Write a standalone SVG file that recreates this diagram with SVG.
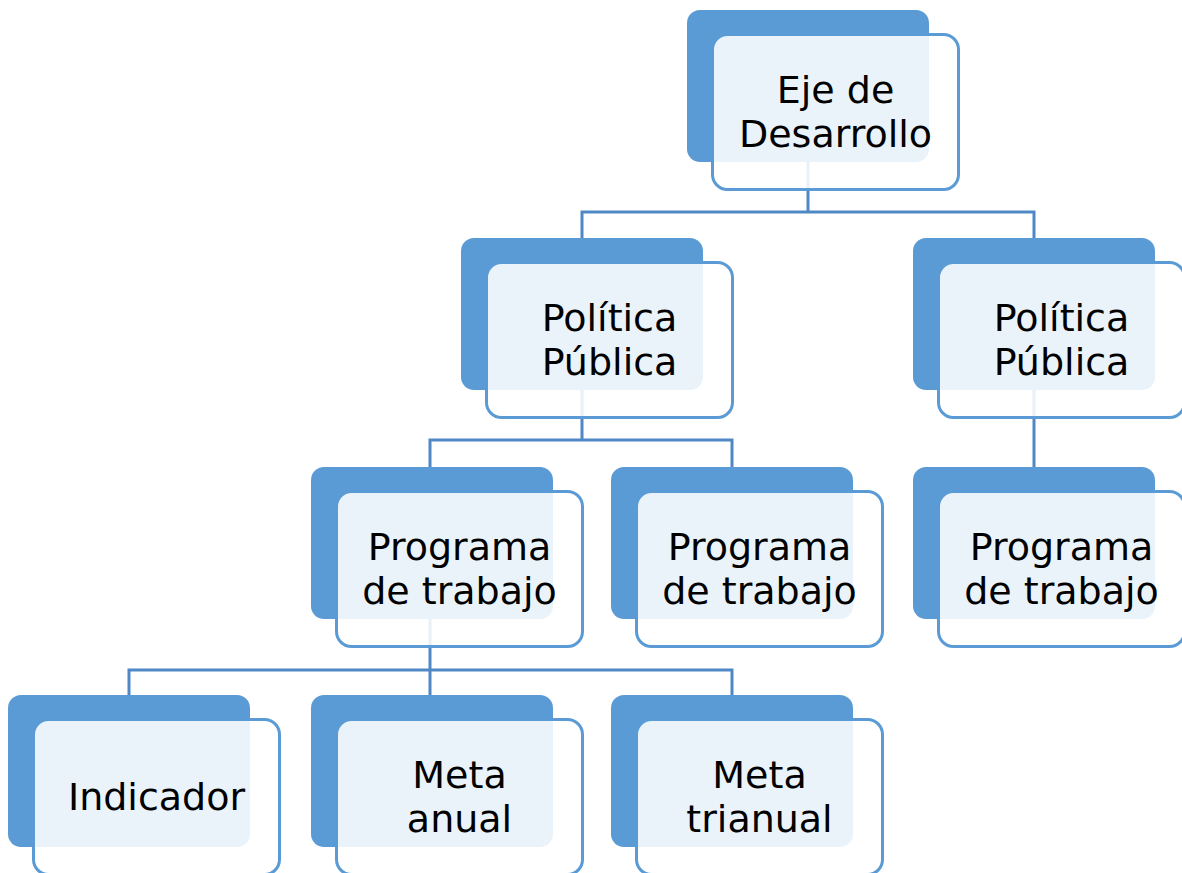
<svg xmlns="http://www.w3.org/2000/svg" width="1182" height="873" viewBox="0 0 1182 873">
<style>
.back{fill:#5b9bd5}
.front{fill:#ffffff;fill-opacity:0.88;stroke:#5b9bd5;stroke-width:3}
.conn{fill:none;stroke:#4f88c4;stroke-width:3}
text{font-family:"DejaVu Sans","Liberation Sans",sans-serif;font-size:38px;fill:#000;text-anchor:middle}
</style>
<rect width="1182" height="873" fill="#fff"/>
<g id="connectors">
<path class="conn" d="M808,162 V212 M582,238 V212 H1034 V238"/>
<path class="conn" d="M582,390 V440 M430,467 V440 H732 V467"/>
<path class="conn" d="M1034,390 V467"/>
<path class="conn" d="M430,619 V670 M129,695 V670 H732 V695 M430,670 V695"/>
</g>
<g id="eje">
<rect class="back" x="687" y="10" width="242" height="152" rx="13"/>
<rect class="front" x="712.5" y="34.5" width="246" height="155" rx="15"/>
<text x="835.5" y="103">Eje de</text>
<text x="835.5" y="147">Desarrollo</text>
</g>
<g id="pp1">
<rect class="back" x="461" y="238" width="242" height="152" rx="13"/>
<rect class="front" x="486.5" y="262.5" width="246" height="155" rx="15"/>
<text x="609.5" y="331">Política</text>
<text x="609.5" y="375">Pública</text>
</g>
<g id="pp2">
<rect class="back" x="913" y="238" width="242" height="152" rx="13"/>
<rect class="front" x="938.5" y="262.5" width="246" height="155" rx="15"/>
<text x="1061.5" y="331">Política</text>
<text x="1061.5" y="375">Pública</text>
</g>
<g id="pt1">
<rect class="back" x="311" y="467" width="242" height="152" rx="13"/>
<rect class="front" x="336.5" y="491.5" width="246" height="155" rx="15"/>
<text x="459.5" y="560">Programa</text>
<text x="459.5" y="604">de trabajo</text>
</g>
<g id="pt2">
<rect class="back" x="611" y="467" width="242" height="152" rx="13"/>
<rect class="front" x="636.5" y="491.5" width="246" height="155" rx="15"/>
<text x="759.5" y="560">Programa</text>
<text x="759.5" y="604">de trabajo</text>
</g>
<g id="pt3">
<rect class="back" x="913" y="467" width="242" height="152" rx="13"/>
<rect class="front" x="938.5" y="491.5" width="246" height="155" rx="15"/>
<text x="1061.5" y="560">Programa</text>
<text x="1061.5" y="604">de trabajo</text>
</g>
<g id="indicador">
<rect class="back" x="8" y="695" width="242" height="152" rx="13"/>
<rect class="front" x="33.5" y="719.5" width="246" height="155" rx="15"/>
<text x="156.5" y="810">Indicador</text>
</g>
<g id="meta-anual">
<rect class="back" x="311" y="695" width="242" height="152" rx="13"/>
<rect class="front" x="336.5" y="719.5" width="246" height="155" rx="15"/>
<text x="459.5" y="788">Meta</text>
<text x="459.5" y="832">anual</text>
</g>
<g id="meta-trianual">
<rect class="back" x="611" y="695" width="242" height="152" rx="13"/>
<rect class="front" x="636.5" y="719.5" width="246" height="155" rx="15"/>
<text x="759.5" y="788">Meta</text>
<text x="759.5" y="832">trianual</text>
</g>
</svg>
